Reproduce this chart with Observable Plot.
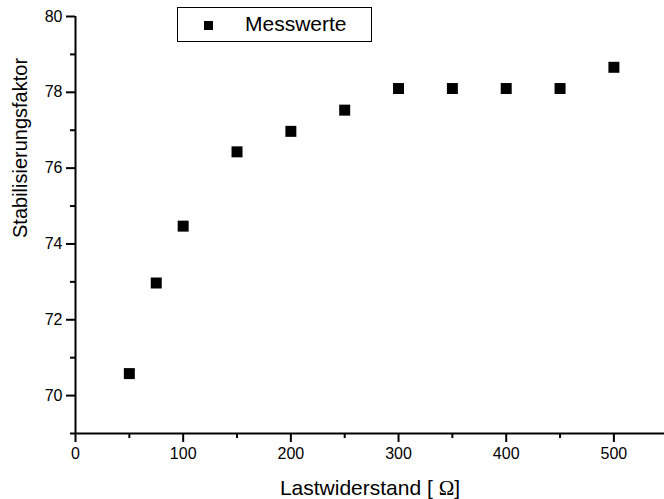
<!DOCTYPE html>
<html>
<head>
<meta charset="utf-8">
<script src="https://cdn.jsdelivr.net/npm/d3@7"></script>
<script src="https://cdn.jsdelivr.net/npm/@observablehq/plot@0.6"></script>
<style>
  html, body { margin: 0; padding: 0; background: #fff; }
  #wrap { position: relative; width: 664px; height: 499px; font-family: "Liberation Sans", Arial, sans-serif; }
  #legend { position: absolute; left: 177px; top: 7px; width: 193px; height: 33px; border: 1.5px solid #000; background: #fff; }
  #legend .sym { position: absolute; left: 26px; top: 13px; width: 9px; height: 9px; background: #000; }
  #legend .lab { position: absolute; left: 67px; top: 3px; font-size: 21px; line-height: 26px; color: #000; }
</style>
</head>
<body>
<div id="wrap"></div>
<script>
const loadOhm = [50, 75, 100, 150, 200, 250, 300, 350, 400, 450, 500];
const stabFactor = [70.58, 72.97, 74.47, 76.43, 76.97, 77.53, 78.1, 78.1, 78.1, 78.1, 78.66];
const xMajorTicks = [0, 100, 200, 300, 400, 500];
const xMinorTicks = [50, 150, 250, 350, 450];
const yMajorTicks = [70, 72, 74, 76, 78, 80];
const yMinorTicks = [69, 71, 73, 75, 77, 79];
const seriesName = "Messwerte";
const xTitle = "Lastwiderstand [ Ω]";
const yTitle = "Stabilisierungsfaktor";

const data = loadOhm.map((x, i) => ({x, y: stabFactor[i]}));

const chart = Plot.plot({
  width: 664,
  height: 499,
  marginLeft: 75,
  marginRight: 0,
  marginTop: 16,
  marginBottom: 66,
  style: {fontFamily: "'Liberation Sans', Arial, sans-serif", fontSize: "16px", color: "#000", background: "#fff"},
  x: {domain: [0, 547]},
  y: {domain: [69, 80]},
  marks: [
    Plot.axisX(xMajorTicks, {tickSize: 9, tickPadding: 5, strokeWidth: 2, fontSize: 16, label: null}),
    Plot.axisX(xMinorTicks, {tickSize: 5, text: null, strokeWidth: 2, label: null}),
    Plot.axisY(yMajorTicks, {tickSize: 9, tickPadding: 4, strokeWidth: 2, fontSize: 16, label: null}),
    Plot.axisY(yMinorTicks, {tickSize: 5, text: null, strokeWidth: 2, label: null}),
    Plot.ruleX([0], {strokeWidth: 2}),
    Plot.ruleY([69], {strokeWidth: 2}),
    Plot.dot(data, {x: "x", y: "y", symbol: "square", r: 6.2, fill: "#000", stroke: null}),
    Plot.text([yTitle], {frameAnchor: "left", rotate: -90, dx: -55, dy: 13, fontSize: 20, fill: "#000"}),
    Plot.text([xTitle], {frameAnchor: "bottom", lineAnchor: "bottom", dy: 61, fontSize: 21, fill: "#000"})
  ]
});

const wrap = document.getElementById("wrap");
wrap.appendChild(chart);

// Render the Ω in a serif face, as in the original
d3.select(chart).selectAll("text").each(function() {
  const t = d3.select(this);
  const s = t.text();
  const idx = s.indexOf("Ω");
  if (idx >= 0 && this.children.length === 0) {
    t.text(null);
    t.append("tspan").text(s.slice(0, idx));
    t.append("tspan").attr("font-family", "'Liberation Serif', 'DejaVu Serif', serif").style("font-family", "'Liberation Serif', 'DejaVu Serif', serif").text("Ω");
    t.append("tspan").text(s.slice(idx + 1));
  }
});

const legend = document.createElement("div");
legend.id = "legend";
legend.innerHTML = '<div class="sym"></div><div class="lab"></div>';
legend.querySelector(".lab").textContent = seriesName;
wrap.appendChild(legend);
</script>
</body>
</html>
